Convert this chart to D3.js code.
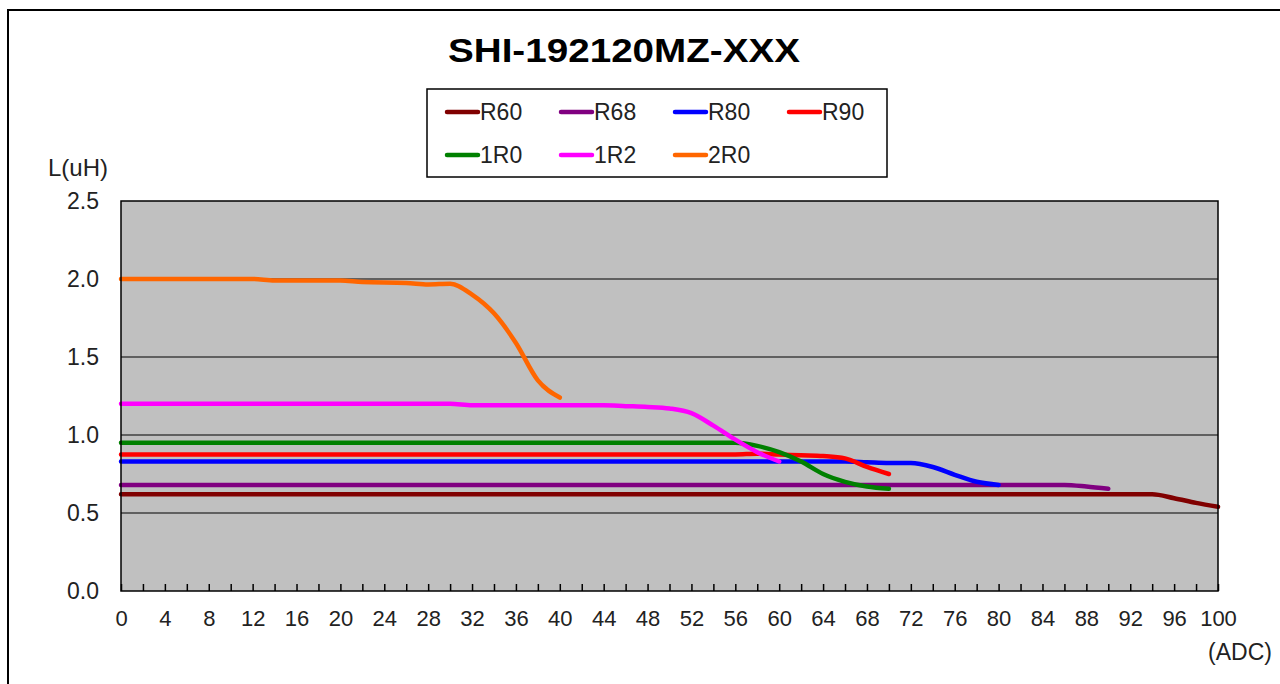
<!DOCTYPE html>
<html>
<meta charset="utf-8">
<head>
    <script src="https://d3js.org/d3.v7.min.js"></script>
    <style>
        body { margin: 0; background: #fff; }
        text { font-family: "Liberation Sans", Arial, sans-serif; fill: #222; }
    </style>
</head>
<body>
    <script>
        // current (ADC) vs inductance (uH)
        var r60 = [[0, 0.62], [92, 0.62], [94, 0.62], [96, 0.595], [98, 0.565], [100, 0.54]];
        var r68 = [[0, 0.68], [84, 0.68], [86, 0.68], [88, 0.67], [90, 0.655]];
        var r80 = [[0, 0.83], [62, 0.83], [66, 0.83], [68, 0.825], [70, 0.82], [72, 0.82], [74, 0.795], [76, 0.745], [78, 0.70], [80, 0.68]];
        var r90 = [[0, 0.875], [56, 0.875], [58, 0.88], [60, 0.875], [62, 0.87], [64, 0.865], [66, 0.85], [68, 0.795], [70, 0.75]];
        var s1r0 = [[0, 0.95], [54, 0.95], [56, 0.95], [58, 0.93], [60, 0.89], [62, 0.83], [64, 0.75], [66, 0.70], [68, 0.67], [70, 0.655]];
        var s1r2 = [[0, 1.20], [30, 1.20], [32, 1.19], [44, 1.19], [46, 1.185], [48, 1.18], [50, 1.17], [52, 1.14], [54, 1.06], [56, 0.97], [58, 0.89], [60, 0.83]];
        var s2r0 = [[0, 2.00], [12, 2.00], [14, 1.99], [20, 1.99], [22, 1.98], [26, 1.975], [28, 1.965], [30, 1.97], [32, 1.90], [34, 1.78], [36, 1.59], [38, 1.35], [40, 1.24]];

        var names = ["R60", "R68", "R80", "R90", "1R0", "1R2", "2R0"];
        var colors = ["#800000", "#800080", "#0000ff", "#ff0000", "#008000", "#ff00ff", "#ff6600"];
        var seriesData = [r60, r68, r80, r90, s1r0, s1r2, s2r0];

        var yTicks = [0, 0.5, 1.0, 1.5, 2.0, 2.5];
        var gridVals = [0.5, 1.0, 1.5, 2.0];

        var width = 1280,
            height = 684,
            plotLeft = 121, plotRight = 1218, plotTop = 201, plotBottom = 591;

        var svg = d3.select("body").append("svg")
            .attr("width", width)
            .attr("height", height);

        // outer frame
        svg.append("rect")
            .attr("x", 8).attr("y", 10)
            .attr("width", 1300).attr("height", 700)
            .attr("fill", "#fff")
            .attr("stroke", "#000")
            .attr("stroke-width", 2);

        var x = d3.scaleLinear().domain([0, 100]).range([plotLeft, plotRight]);
        var y = d3.scaleLinear().domain([0, 2.5]).range([plotBottom, plotTop]);

        // plot area
        svg.append("rect")
            .attr("x", plotLeft).attr("y", plotTop)
            .attr("width", plotRight - plotLeft).attr("height", plotBottom - plotTop)
            .attr("fill", "#c0c0c0");

        svg.selectAll("line.grid")
            .data(gridVals)
            .enter()
            .append("line")
            .attr("class", "grid")
            .attr("x1", plotLeft).attr("x2", plotRight)
            .attr("y1", function(d) { return y(d); })
            .attr("y2", function(d) { return y(d); })
            .attr("stroke", "#000")
            .attr("stroke-width", 1.2);

        // minor ticks pointing up, every 2
        svg.append("g")
            .attr("transform", "translate(0," + plotBottom + ")")
            .call(d3.axisTop(x).tickValues(d3.range(0, 101, 2)).tickSize(7).tickFormat(""))
            .call(function(g) { g.select(".domain").remove(); })
            .selectAll("line").attr("stroke", "#000").attr("stroke-width", 1.5);

        // x labels
        svg.append("g")
            .attr("transform", "translate(0," + plotBottom + ")")
            .call(d3.axisBottom(x).tickValues(d3.range(0, 101, 4)).tickSize(0).tickPadding(19))
            .call(function(g) { g.select(".domain").remove(); })
            .selectAll("text")
            .attr("font-size", 22)
            .attr("font-family", "Liberation Sans, Arial, sans-serif")
            .attr("fill", "#222");

        // y labels
        svg.append("g")
            .attr("transform", "translate(" + plotLeft + ",0)")
            .call(d3.axisLeft(y).tickValues(yTicks).tickSize(0).tickPadding(22).tickFormat(d3.format(".1f")))
            .call(function(g) { g.select(".domain").remove(); })
            .selectAll("text")
            .attr("font-size", 23)
            .attr("font-family", "Liberation Sans, Arial, sans-serif")
            .attr("fill", "#222");

        var line = d3.line()
            .x(function(d) { return x(d[0]); })
            .y(function(d) { return y(d[1]); })
            .curve(d3.curveMonotoneX);

        svg.selectAll("path.series")
            .data(seriesData)
            .enter()
            .append("path")
            .attr("class", "series")
            .attr("d", line)
            .attr("fill", "none")
            .attr("stroke", function(d, i) { return colors[i]; })
            .attr("stroke-width", 4.5)
            .attr("stroke-linecap", "round")
            .attr("stroke-linejoin", "round");

        // plot border
        svg.append("rect")
            .attr("x", plotLeft).attr("y", plotTop)
            .attr("width", plotRight - plotLeft).attr("height", plotBottom - plotTop)
            .attr("fill", "none")
            .attr("stroke", "#000")
            .attr("stroke-width", 1.5);

        // title
        svg.append("text")
            .attr("x", 624).attr("y", 62)
            .attr("text-anchor", "middle")
            .attr("font-size", 33)
            .attr("font-weight", "bold")
            .attr("textLength", 352)
            .attr("lengthAdjust", "spacingAndGlyphs")
            .style("fill", "#000")
            .text("SHI-192120MZ-XXX");

        svg.append("text")
            .attr("x", 48).attr("y", 176)
            .attr("font-size", 24)
            .text("L(uH)");

        svg.append("text")
            .attr("x", 1272).attr("y", 660)
            .attr("text-anchor", "end")
            .attr("font-size", 23)
            .text("(ADC)");

        // legend
        var legend = svg.append("g");
        legend.append("rect")
            .attr("x", 427).attr("y", 89)
            .attr("width", 460).attr("height", 88)
            .attr("fill", "#fff")
            .attr("stroke", "#000")
            .attr("stroke-width", 1.5);

        var item = legend.selectAll("g.item")
            .data(names)
            .enter()
            .append("g")
            .attr("class", "item")
            .attr("transform", function(d, i) {
                return "translate(" + (446 + (i % 4) * 114) + "," + (i < 4 ? 112 : 155) + ")";
            });

        item.append("line")
            .attr("x1", 1).attr("x2", 32)
            .attr("stroke", function(d, i) { return colors[i]; })
            .attr("stroke-width", 4.5)
            .attr("stroke-linecap", "round");

        item.append("text")
            .attr("x", 34).attr("dy", "0.36em")
            .attr("font-size", 23)
            .text(function(d) { return d; });
    </script>
</body>
</html>
